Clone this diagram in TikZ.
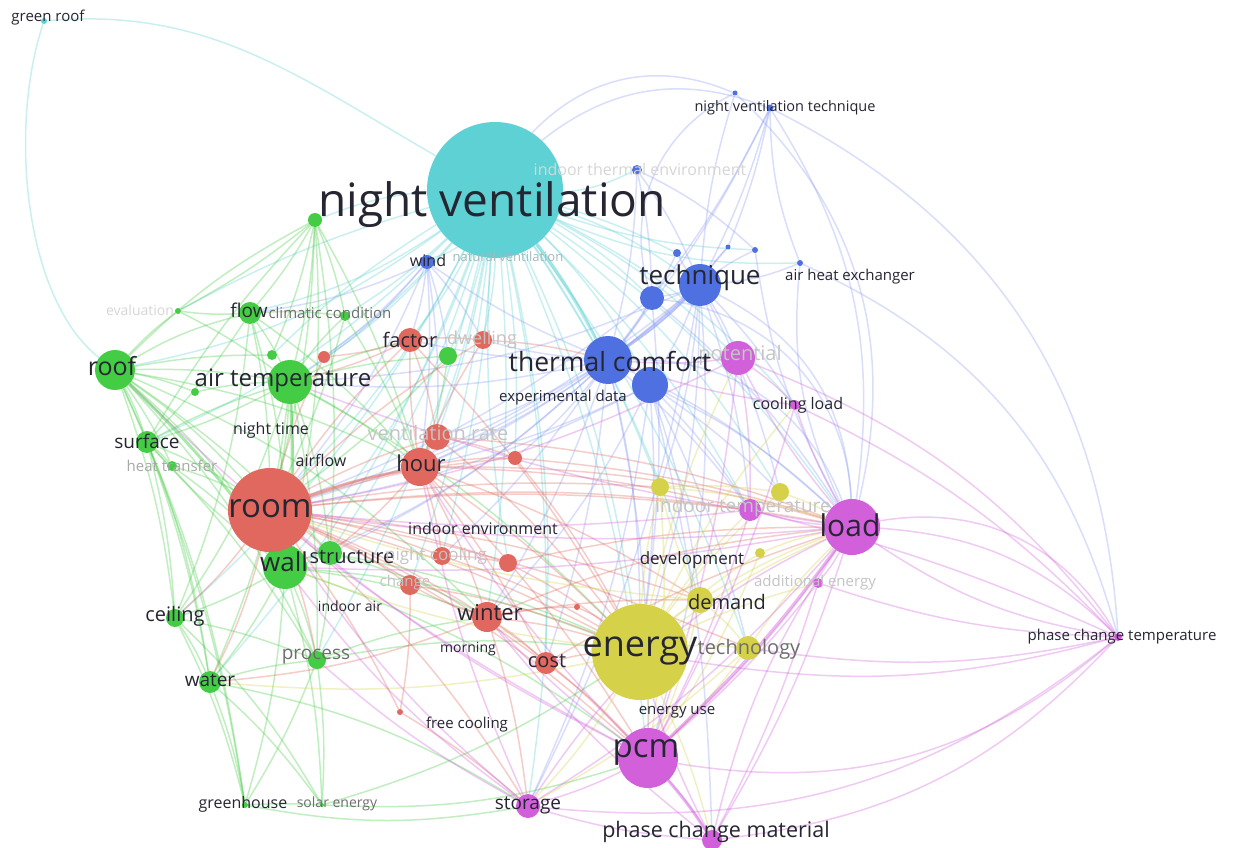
\documentclass[tikz,border=0pt]{standalone}
\usepackage{fontspec}
\setmainfont{Open Sans}
\definecolor{cteal}{HTML}{5ED1D4}
\definecolor{cblue}{HTML}{4F70E0}
\definecolor{lblue}{HTML}{8C9CF2}
\definecolor{cgreen}{HTML}{45CC45}
\definecolor{cred}{HTML}{E0685E}
\definecolor{cyellow}{HTML}{D5D24A}
\definecolor{cmag}{HTML}{D160DA}
\definecolor{ink}{HTML}{262633}
\definecolor{fade}{HTML}{C4C4C4}
\definecolor{mid}{HTML}{6E6E6E}
\pgfdeclarelayer{edges}
\pgfsetlayers{edges,main}
\tikzset{
  bub/.style 2 args={circle, inner sep=0pt, minimum size=#1, fill=#2},
  kw/.style={font=\fontsize{#1}{#1}\selectfont, inner sep=0pt, text=ink},
  link/.style={line width=1.5pt, draw=#1, draw opacity=0.33},
  strong/.style={line width=3pt, draw opacity=0.45},
}
\begin{document}
\begin{tikzpicture}[x=1pt,y=-1pt]
\useasboundingbox (0,0) rectangle (1235,848);

% clusters
\node[bub={136pt}{cteal}] (nv) at (495,190) {};
\node[bub={6pt}{cteal}] (gr) at (44,21) {};

\node[bub={14pt}{cblue}] (wind) at (427,262) {};
\node[bub={10pt}{cblue}] (ite) at (637,170) {};
\node[bub={7pt}{cblue}] (nvt) at (770,108) {};
\node[bub={5pt}{cblue}] (nvtb) at (735,93) {};
\node[bub={42pt}{cblue}] (tech) at (700,285) {};
\node[bub={24pt}{cblue}] (techb) at (652,298) {};
\node[bub={48pt}{cblue}] (tc) at (608,360) {};
\node[bub={36pt}{cblue}] (tcb) at (650,385) {};
\node[bub={6pt}{cblue}] (ahe) at (800,263) {};
\node[bub={8pt}{cblue}] (bla) at (677,253) {};
\node[bub={6pt}{cblue}] (blb) at (755,250) {};
\node[bub={5pt}{cblue}] (blc) at (728,247) {};

\node[bub={14pt}{cgreen}] (gtop) at (315,220) {};
\node[bub={22pt}{cgreen}] (flow) at (250,313) {};
\node[bub={10pt}{cgreen}] (cc) at (345,316) {};
\node[bub={6pt}{cgreen}] (eval) at (178,311) {};
\node[bub={40pt}{cgreen}] (roof) at (115,370) {};
\node[bub={44pt}{cgreen}] (airtemp) at (290,382) {};
\node[bub={10pt}{cgreen}] (gsm) at (272,355) {};
\node[bub={8pt}{cgreen}] (gsmb) at (195,392) {};
\node[bub={22pt}{cgreen}] (surface) at (147,442) {};
\node[bub={10pt}{cgreen}] (ht) at (172,466) {};
\node[bub={44pt}{cgreen}] (wall) at (285,567) {};
\node[bub={24pt}{cgreen}] (structure) at (330,553) {};
\node[bub={18pt}{cgreen}] (ceiling) at (175,618) {};
\node[bub={22pt}{cgreen}] (water) at (210,682) {};
\node[bub={18pt}{cgreen}] (process) at (317,660) {};
\node[bub={6pt}{cgreen}] (greenhouse) at (245,805) {};
\node[bub={4pt}{cgreen}] (solar) at (322,805) {};
\node[bub={18pt}{cgreen}] (dwellg) at (448,356) {};

\node[bub={84pt}{cred}] (room) at (270,510) {};
\node[bub={38pt}{cred}] (hour) at (420,467) {};
\node[bub={24pt}{cred}] (factor) at (410,340) {};
\node[bub={18pt}{cred}] (dwellr) at (483,340) {};
\node[bub={12pt}{cred}] (rsm) at (324,357) {};
\node[bub={26pt}{cred}] (vrate) at (437,437) {};
\node[bub={14pt}{cred}] (rb) at (515,458) {};
\node[bub={18pt}{cred}] (ncool) at (442,556) {};
\node[bub={18pt}{cred}] (rc) at (508,563) {};
\node[bub={20pt}{cred}] (change) at (410,585) {};
\node[bub={30pt}{cred}] (winter) at (487,617) {};
\node[bub={22pt}{cred}] (cost) at (546,663) {};
\node[bub={6pt}{cred}] (fcool) at (400,712) {};
\node[bub={6pt}{cred}] (rd) at (577,607) {};

\node[bub={96pt}{cyellow}] (energy) at (640,652) {};
\node[bub={18pt}{cyellow}] (ya) at (660,487) {};
\node[bub={18pt}{cyellow}] (yb) at (780,492) {};
\node[bub={10pt}{cyellow}] (devel) at (760,553) {};
\node[bub={26pt}{cyellow}] (demand) at (700,600) {};
\node[bub={24pt}{cyellow}] (techn) at (748,648) {};

\node[bub={56pt}{cmag}] (load) at (852,527) {};
\node[bub={34pt}{cmag}] (potent) at (738,358) {};
\node[bub={10pt}{cmag}] (cload) at (795,405) {};
\node[bub={22pt}{cmag}] (itemp) at (750,510) {};
\node[bub={10pt}{cmag}] (addl) at (818,583) {};
\node[bub={60pt}{cmag}] (pcm) at (648,758) {};
\node[bub={24pt}{cmag}] (storage) at (528,806) {};
\node[bub={20pt}{cmag}] (pcmat) at (712,840) {};
\node[bub={8pt}{cmag}] (pct) at (1118,637) {};

\begin{pgfonlayer}{edges}
\fill[white] (0,0) rectangle (1235,848);
% links
\foreach \a/\b/\k in {nv/wind/10, nv/ite/-10, nv/tech/8, nv/techb/6, nv/tc/5, nv/tcb/8, nv/flow/10, nv/gtop/-8, nv/roof/12, nv/airtemp/8, nv/factor/6, nv/dwellr/5, nv/dwellg/5, nv/hour/6, nv/room/8, nv/vrate/5, nv/rb/5, nv/wall/10, nv/energy/8, nv/load/10, nv/pcm/8, nv/potent/8, nv/itemp/8, nv/ya/6, nv/cost/6, nv/winter/6, nv/ncool/5, nv/process/8, nv/structure/8, nv/cc/5, nv/surface/10, nv/demand/8, nv/storage/10, nv/bla/5, nv/blb/-8, nv/cload/10, nv/yb/10, nv/change/6, nv/rsm/6, nv/water/10, nv/ceiling/10, nv/techn/8, nv/rc/-6, nv/ahe/-12, nv/eval/-6, nv/gsm/-6}
  \draw[link=cteal] (\a) to[bend left=\k] (\b);
\foreach \a/\b/\k in {tech/tc/5, tech/tcb/5, tech/techb/5, tech/ahe/-8, tech/potent/5, tech/bla/5, tech/blb/5, tech/blc/5, tech/energy/8, tech/pcm/10, tech/itemp/6, tech/cload/6, tech/ya/6, tech/yb/6, tech/room/10, tech/hour/8, tech/airtemp/10, tc/room/8, tc/hour/6, tc/energy/6, tc/load/8, tc/airtemp/8, tc/wind/6, tc/factor/6, tc/vrate/6, tc/winter/6, tc/pcm/6, tc/dwellr/5, tc/ncool/6, tc/rb/6, tc/wall/10, tc/itemp/6, tcb/energy/5, tcb/itemp/5, tcb/storage/8, tcb/demand/5, tcb/yb/5, tcb/load/8, tcb/room/8, tcb/hour/6, tcb/winter/8, tcb/techn/6, wind/factor/5, wind/hour/5, wind/airtemp/8, wind/dwellr/5, wind/room/8, wind/flow/8, wind/vrate/5, wind/dwellg/5, wind/rsm/6, ite/tech/6, ite/tc/6, ite/techb/5, ite/blb/8, techb/tc/5, techb/energy/6, techb/room/8, techb/load/8, bla/tc/5, blb/load/-10, ahe/load/-15, blc/tc/6, nvt/techb/5, nvt/tech/5, nvt/ahe/-10, nvtb/tech/-6, nvt/tc/6, nvt/blc/5, tc/structure/8, tc/cost/6, tcb/pcmat/6, tech/storage/8}
  \draw[link=lblue] (\a) to[bend left=\k] (\b);
\foreach \a/\b/\k in {roof/airtemp/5, roof/flow/8, roof/surface/5, roof/ceiling/6, roof/water/8, roof/wall/8, roof/room/6, roof/gtop/8, roof/eval/5, roof/greenhouse/8, roof/gsmb/5, roof/ht/5, roof/structure/6, roof/process/8, roof/hour/8, roof/winter/10, roof/gsm/5, gtop/flow/5, gtop/airtemp/5, gtop/room/6, gtop/hour/6, gtop/wall/8, gtop/cc/5, gtop/surface/-6, gtop/gsm/5, flow/airtemp/5, flow/surface/5, flow/room/5, flow/wall/8, flow/cc/5, flow/eval/5, flow/ceiling/8, airtemp/surface/5, airtemp/room/5, airtemp/wall/5, airtemp/hour/5, airtemp/ceiling/8, airtemp/water/8, airtemp/cc/5, airtemp/dwellg/5, airtemp/factor/5, airtemp/process/6, airtemp/structure/6, airtemp/energy/8, wall/ceiling/5, wall/water/5, wall/process/5, wall/structure/5, wall/greenhouse/6, wall/surface/5, wall/energy/8, wall/winter/6, wall/pcm/8, wall/solar/6, structure/process/5, structure/winter/6, structure/energy/6, ceiling/water/5, ceiling/greenhouse/6, ceiling/process/5, water/greenhouse/5, water/solar/6, water/process/5, water/storage/10, process/greenhouse/5, process/solar/5, process/energy/8, process/winter/6, greenhouse/solar/3, greenhouse/storage/-10, solar/energy/-8, solar/pcm/-10, surface/ht/5, surface/ceiling/5, surface/water/5, surface/room/5, surface/airtemp/5, dwellg/hour/5, dwellg/room/5, cc/room/5, cc/hour/5, ht/room/5, ht/wall/5, gsmb/airtemp/5, eval/airtemp/5, eval/gtop/-5, flow/hour/6, gtop/structure/6, ceiling/solar/8, surface/greenhouse/6, surface/process/6}
  \draw[link=cgreen] (\a) to[bend left=\k] (\b);
\foreach \a/\b/\k in {room/hour/4, room/factor/5, room/vrate/5, room/ncool/5, room/change/5, room/winter/5, room/cost/6, room/structure/5, room/energy/6, room/pcm/8, room/load/8, room/itemp/6, room/rb/6, room/dwellr/6, room/rsm/5, room/demand/6, room/techn/6, room/storage/8, room/rc/5, room/fcool/5, room/ya/6, hour/factor/5, hour/vrate/5, hour/winter/5, hour/energy/5, hour/load/8, hour/ncool/5, hour/rb/5, hour/cost/5, hour/itemp/6, hour/demand/6, hour/dwellr/5, hour/pcm/6, winter/energy/5, winter/cost/5, winter/pcm/5, winter/storage/5, winter/change/5, winter/load/8, winter/rd/5, winter/demand/5, factor/dwellr/5, factor/vrate/5, factor/rsm/5, factor/energy/6, vrate/rb/5, vrate/energy/6, vrate/load/8, ncool/rc/5, ncool/energy/6, change/fcool/5, change/energy/6, cost/energy/5, cost/pcm/5, cost/load/6, rc/energy/5, rc/load/6, fcool/storage/5, rd/energy/5, dwellr/tc/5, rb/energy/5, rb/load/6, room/water/6, room/ceiling/5, room/process/5, hour/structure/5, winter/water/8, factor/airtemp/5}
  \draw[link=cred] (\a) to[bend left=\k] (\b);
\foreach \a/\b/\k in {energy/demand/5, energy/techn/5, energy/pcm/5, energy/load/6, energy/ya/5, energy/yb/6, energy/devel/5, energy/itemp/5, energy/storage/6, energy/pcmat/5, energy/potent/6, energy/cload/6, energy/addl/5, demand/load/5, demand/pcm/5, techn/load/5, techn/pcm/5, ya/load/6, ya/pcm/6, yb/load/5, devel/load/5, devel/pcm/5, ya/yb/5, demand/techn/5, demand/ya/5, energy/wall/6, energy/water/8, techn/storage/6, demand/room/6}
  \draw[link=cyellow] (\a) to[bend left=\k] (\b);
\foreach \a/\b/\k in {load/pcm/6, load/pcmat/6, load/potent/6, load/cload/5, load/itemp/5, load/addl/5, load/storage/8, pcm/pcmat/5, pcm/storage/5, pcmat/storage/6, potent/pcm/6, potent/cload/5, potent/itemp/5, itemp/pcm/5, addl/pcm/5, addl/pcmat/5, cload/pcm/6, storage/wall/8, pcm/room/6, storage/room/8, pcmat/energy/5, pcm/winter/5, pcm/hour/6, load/room/6, itemp/room/6, potent/room/8, cload/tc/5, potent/tc/5, load/wall/6, load/airtemp/6, pcm/roof/8, storage/process/6, pcmat/winter/6, storage/hour/6}
  \draw[link=cmag] (\a) to[bend left=\k] (\b);
% strong links
\draw[link=cgreen, strong] (roof) to[bend left=5] (wall);
\draw[link=cgreen, strong] (airtemp) to[bend left=4] (wall);
\draw[link=cred, strong] (room) to[bend left=4] (hour);
\draw[link=lblue, strong] (tech) to[bend left=4] (tc);
\draw[link=cteal, strong] (nv) to[bend left=4] (tc);
\draw[link=cmag, strong] (load) to[bend left=5] (pcm);
\draw[link=cmag, strong] (pcm) to[bend left=4] (pcmat);
% long arcs
\draw[link=cteal] (gr) to[out=5, in=150] (nv);
\draw[link=cteal] (gr) .. controls (8,130) and (25,300) .. (roof);
\draw[link=lblue] (nv) to[bend left=30] (nvt);
\draw[link=lblue] (nv) to[bend left=35] (nvtb);
\draw[link=lblue] (techb) to[bend left=40] (nvtb);
\draw[link=lblue] (nvt) to[bend left=20] (load);
\draw[link=lblue] (nvtb) to[bend left=30] (load);
\draw[link=lblue] (nvt) to[bend left=30] (pct);
\draw[link=lblue] (tech) to[bend left=30] (load);
\draw[link=lblue] (techb) to[bend left=40] (load);
\draw[link=lblue] (tc) to[bend left=35] (load);
\draw[link=lblue] (ahe) to[bend left=25] (pct);
\foreach \a/\k in {load/20, load/-12, load/35, potent/15, cload/10}
  \draw[link=cmag] (\a) to[bend left=\k] (pct);
\foreach \a/\k in {pcm/25, pcmat/20, energy/12, storage/22, itemp/-5, addl/8, techn/10}
  \draw[link=cmag] (\a) to[bend right=\k] (pct);
\draw[link=cmag] (pcmat) to[bend left=10] (load);
\draw[link=cmag] (storage) to[bend left=15] (load);
\end{pgfonlayer}

% labels
\node[kw=15] (t-gr) at (48,18) {green roof};
\node[kw=14.5] (t-nvt) at (785,108) {night ventilation technique};
\node[kw=16, text=fade!70] (t-ite) at (640,170) {indoor thermal environment};
\node[kw=46] (t-nv) at (492,205) {night ventilation};
\node[kw=13, text=cteal!50!black!45] (t-natv) at (508,257) {natural ventilation};
\node[kw=16] (t-wind) at (428,260) {wind};
\node[kw=26] (t-tech) at (700,278) {technique};
\node[kw=15] (t-ahe) at (850,277) {air heat exchanger};
\node[kw=14, text=fade!70] (t-eval) at (140,310) {evaluation};
\node[kw=19] (t-flow) at (249,310) {flow};
\node[kw=15, text=mid] (t-cc) at (330,313) {climatic condition};
\node[kw=25] (t-roof) at (112,366) {roof};
\node[kw=20] (t-factor) at (410,340) {factor};
\node[kw=18, text=fade] (t-dwell) at (482,340) {dwelling};
\node[kw=24] (t-airtemp) at (283,381) {air temperature};
\node[kw=20, text=fade] (t-potent) at (740,355) {potential};
\node[kw=26.5] (t-tc) at (610,361) {thermal comfort};
\node[kw=15] (t-exp) at (563,398) {experimental data};
\node[kw=16] (t-cload) at (798,405) {cooling load};
\node[kw=19] (t-surface) at (147,441) {surface};
\node[kw=16] (t-nt) at (271,430) {night time};
\node[kw=20, text=fade] (t-vrate) at (438,433) {ventilation rate};
\node[kw=15, text=mid!60] (t-ht) at (172,466) {heat transfer};
\node[kw=16] (t-airflow) at (321,460) {airflow};
\node[kw=22] (t-hour) at (421,463) {hour};
\node[kw=33] (t-room) at (270,509) {room};
\node[kw=19, text=fade] (t-itemp) at (743,508) {indoor temperature};
\node[kw=30] (t-load) at (850,525) {load};
\node[kw=16] (t-ienv) at (483,528) {indoor environment};
\node[kw=26] (t-wall) at (284,562) {wall};
\node[kw=20] (t-structure) at (352,557) {structure};
\node[kw=17, text=fade] (t-ncool) at (436,556) {night cooling};
\node[kw=17] (t-devel) at (692,560) {development};
\node[kw=15, text=fade] (t-change) at (405,583) {change};
\node[kw=15, text=fade] (t-addl) at (815,583) {additional energy};
\node[kw=20] (t-demand) at (727,602) {demand};
\node[kw=20] (t-ceiling) at (175,616) {ceiling};
\node[kw=14] (t-iair) at (350,606) {indoor air};
\node[kw=22] (t-winter) at (490,613) {winter};
\node[kw=36] (t-energy) at (640,651) {energy};
\node[kw=20, text=mid] (t-techn) at (749,649) {technology};
\node[kw=14] (t-morning) at (468,649) {morning};
\node[kw=15] (t-pct) at (1122,637) {phase change temperature};
\node[kw=19, text=mid] (t-process) at (316,657) {process};
\node[kw=20] (t-cost) at (547,661) {cost};
\node[kw=19] (t-water) at (210,680) {water};
\node[kw=15] (t-euse) at (677,712) {energy use};
\node[kw=15] (t-fcool) at (467,725) {free cooling};
\node[kw=33] (t-pcm) at (646,752) {pcm};
\node[kw=16] (t-gh) at (243,804) {greenhouse};
\node[kw=14, text=mid] (t-solar) at (337,804) {solar energy};
\node[kw=19] (t-storage) at (528,806) {storage};
\node[kw=21.5] (t-pcmat) at (716,832) {phase change material};
\end{tikzpicture}
\end{document}
